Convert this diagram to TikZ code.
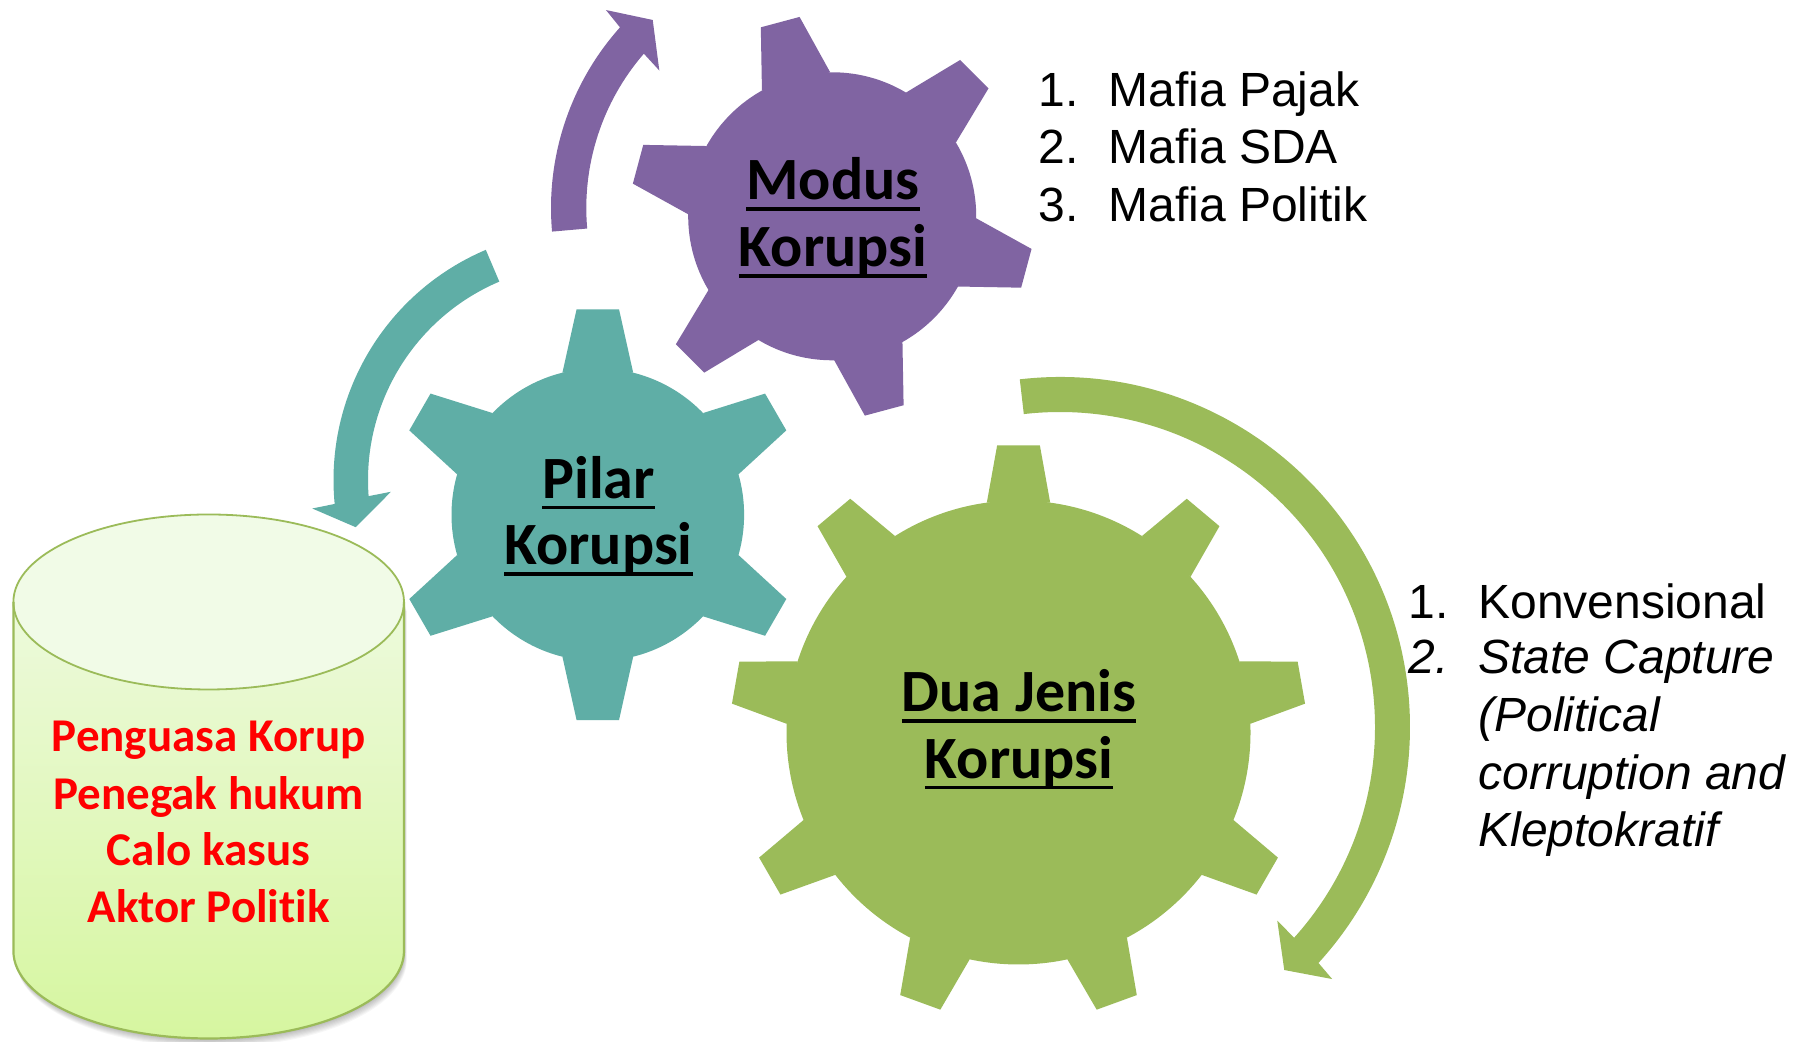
\documentclass[tikz,border=0pt]{standalone}
\usepackage{fontspec}
\newfontfamily\calibri[Ligatures=NoCommon]{Carlito}
\newfontfamily\arial[Ligatures=NoCommon]{Liberation Sans}
\definecolor{purpleC}{RGB}{128,100,162}
\definecolor{tealC}{RGB}{95,174,166}
\definecolor{greenC}{RGB}{155,187,89}
\definecolor{cylTop}{RGB}{241,251,231}
\definecolor{cylA}{RGB}{237,250,220}
\definecolor{cylB}{RGB}{214,246,160}
\definecolor{cylLine}{RGB}{155,187,89}
\newsavebox\ulbox
\newcommand{\ulin}[1]{\sbox\ulbox{#1}\rlap{\rule[-5.55pt]{\wd\ulbox}{1.85pt}}\usebox\ulbox}
% center, teeth, start angle, inner r, outer r, base half-angle, tip half-angle, colour
\newcommand{\drawgear}[8]{%
  \begin{scope}[shift={#1}]
    \fill[#8] (0,0) circle[radius=#4];
    \foreach \gk in {1,...,#2}{%
      \pgfmathsetmacro{\gA}{#3+360/#2*(\gk-1)}%
      \fill[#8] ({\gA-#6}:#4) -- ({\gA-#7}:#5) -- ({\gA+#7}:#5) -- ({\gA+#6}:#4) -- cycle;
    }
  \end{scope}}
\begin{document}
\begin{tikzpicture}[x=0.5pt,y=0.5pt,
  gearlabel/.style={anchor=base, inner sep=0pt, text=black, font=\calibri\bfseries\fontsize{30pt}{36pt}\selectfont},
  cyltext/.style={anchor=base, inner sep=0pt, text=red, font=\calibri\bfseries\fontsize{23.5pt}{28pt}\selectfont},
  listitem/.style={anchor=base west, inner sep=0pt, text=black, font=\arial\fontsize{24pt}{28pt}\selectfont},
  listitemit/.style={anchor=base west, inner sep=0pt, text=black, font=\arial\itshape\fontsize{24pt}{28pt}\selectfont}]
\useasboundingbox (0,0) rectangle (1793,1042);
\fill[white] (0,0) rectangle (1793,1042);

% ---------- cylinder ----------
\foreach \i in {1,...,8}{
  \begin{scope}[shift={(0.35*\i,-1.1*\i)}]
    \fill[black,opacity=0.035] (13.4,440) -- (13.4,91) arc[start angle=180,end angle=360,x radius=195.3,y radius=87.5] -- (404,440) -- cycle;
  \end{scope}
}
\shade[top color=cylA, bottom color=cylB] (13.4,440) -- (13.4,91) arc[start angle=180,end angle=360,x radius=195.3,y radius=87.5] -- (404,440) -- cycle;
\fill[cylTop] (208.7,440) ellipse[x radius=195.3,y radius=87.5];
\draw[cylLine,line width=1.1pt] (13.4,440) -- (13.4,91) arc[start angle=180,end angle=360,x radius=195.3,y radius=87.5] -- (404,440);
\draw[cylLine,line width=0.9pt] (208.7,440) ellipse[x radius=195.3,y radius=87.5];

\node[cyltext] (c1) at (208.7,290.3) {Penguasa Korup};
\node[cyltext] (c2) at (208.7,232.7) {Penegak hukum};
\node[cyltext] (c3) at (208.7,176.3) {Calo kasus};
\node[cyltext] (c4) at (208.7,119.3) {Aktor Politik};

% ---------- circular arrows ----------
\begin{scope}[shift={(822,834)}]
  \fill[purpleC] (185:271) arc[start angle=185,end angle=138.2,radius=271] -- (137.5:293) -- (132:253) -- (139.8:213) -- (139.1:235.7) arc[start angle=139.1,end angle=185,radius=235.7] -- cycle;
\end{scope}
\begin{scope}[shift={(583.5,562)}]
  \fill[tealC] (113:250) arc[start angle=113,end angle=185.5,radius=250] -- (186:272.7) -- (191.7:232.7) -- (183.5:192.9) -- (184.3:215.5) arc[start angle=184.3,end angle=113,radius=215.5] -- cycle;
\end{scope}
\begin{scope}[shift={(1060,315)}]
  \fill[greenC] (96.6:350) arc[start angle=96.6,end angle=-42.4,radius=350] -- (-42.8:371) -- (-47.3:330.7) -- (-41.7:291) -- (-42:315) arc[start angle=-42,end angle=96.6,radius=315] -- cycle;
\end{scope}

% ---------- gears ----------
\drawgear{(832.2,825.7)}{6}{105}{144}{202}{14.2}{5.7}{purpleC}
\drawgear{(597.8,527.3)}{6}{90}{146.3}{206.5}{14}{5.9}{tealC}
\drawgear{(1018.5,309.5)}{9}{90}{232}{288}{7.85}{4.25}{greenC}

\node[gearlabel] (m1) at (833,842) {\ulin{Modus}};
\node[gearlabel] (m2) at (833,775.3) {\ulin{Korupsi}};
\node[gearlabel] (p1) at (598.5,543.7) {\ulin{Pilar}};
\node[gearlabel] (p2) at (598.5,477) {\ulin{Korupsi}};
\node[gearlabel] (d1) at (1019,330.3) {\ulin{Dua Jenis}};
\node[gearlabel] (d2) at (1019,263.7) {\ulin{Korupsi}};

% ---------- lists ----------
\node[listitem] (n1) at (1038,935.3) {1.};
\node[listitem] (t1) at (1108,935.3) {Mafia Pajak};
\node[listitem] (n2) at (1038,878) {2.};
\node[listitem] (t2) at (1108,878) {Mafia SDA};
\node[listitem] (n3) at (1038,820.3) {3.};
\node[listitem] (t3) at (1108,820.3) {Mafia Politik};

\node[listitem] (k1) at (1408,423.7) {1.};
\node[listitem] (s1) at (1478,423.7) {Konvensional};
\node[listitemit] (k2) at (1408,368.7) {2.};
\node[listitemit] (s2) at (1478,368.7) {State Capture};
\node[listitemit] (s3) at (1478,310.3) {(Political};
\node[listitemit] (s4) at (1478,252.7) {corruption and};
\node[listitemit] (s5) at (1478,195.3) {Kleptokratif};
\end{tikzpicture}
\end{document}
